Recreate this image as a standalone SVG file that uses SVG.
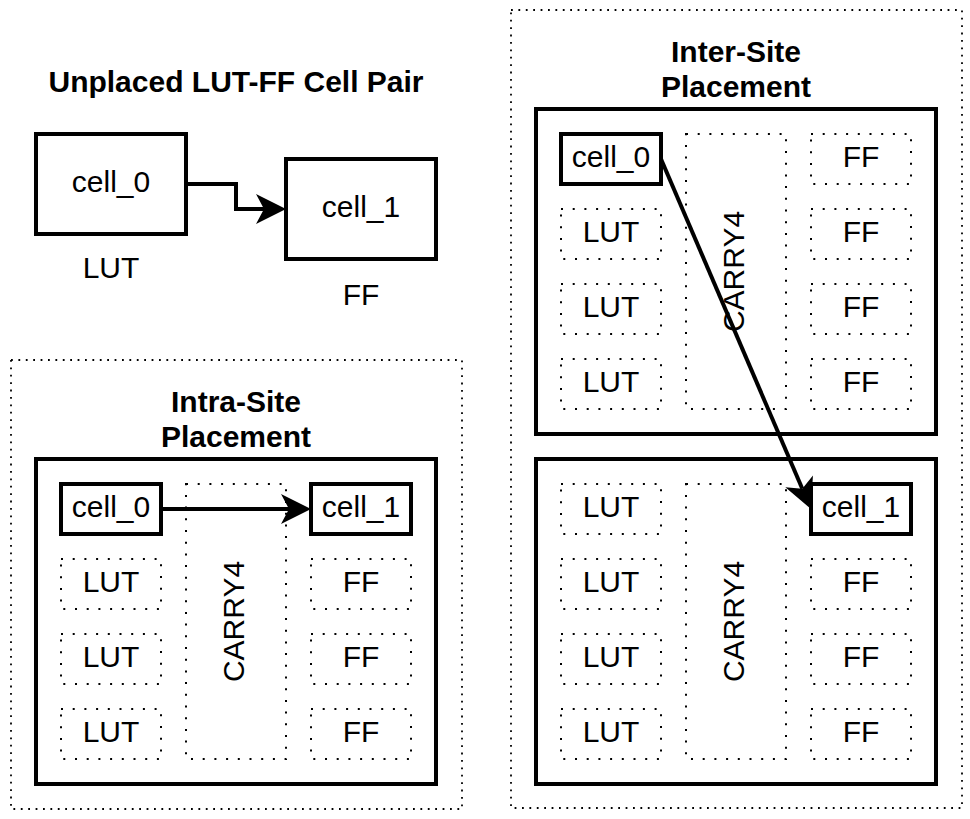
<svg xmlns="http://www.w3.org/2000/svg" width="970" height="819" viewBox="0 0 970 819">
<style>
text{font-family:"Liberation Sans",Arial,Helvetica,sans-serif;font-size:30px;fill:#000;text-anchor:middle}
.t{font-weight:bold}
.cell{fill:#fff;stroke:#000;stroke-width:4}
.site{fill:#fff;stroke:#000;stroke-width:4}
.slot{fill:none;stroke:#000;stroke-width:2;stroke-dasharray:2 9.7}
.region{fill:none;stroke:#000;stroke-width:1.8;stroke-dasharray:1.8 5.6}
.edge{fill:none;stroke:#000;stroke-width:4}
</style>
<defs>
<marker id="arr" markerUnits="userSpaceOnUse" markerWidth="32" markerHeight="32" refX="8" refY="15" orient="auto" overflow="visible">
<path d="M30,15 L0,0 L8,15 L0,30 Z" fill="#000"/>
</marker>
</defs>
<rect width="970" height="819" fill="#fff"/>

<g id="unplaced">
<text class="t" x="236" y="92">Unplaced LUT-FF Cell Pair</text>
<g id="u_cell0"><rect class="cell" x="36" y="134" width="150" height="100"/><text x="111" y="192">cell_0</text></g>
<text x="111" y="278">LUT</text>
<g id="u_cell1"><rect class="cell" x="286" y="159" width="150" height="100"/><text x="361" y="217">cell_1</text></g>
<text x="361" y="305">FF</text>
</g>

<g id="intra">
<rect class="region" x="11" y="360" width="451" height="449"/>
<text class="t" x="236" y="412">Intra-Site</text>
<text class="t" x="236" y="447">Placement</text>
<rect class="site" x="36" y="459" width="400" height="325"/>
<g id="i_cell0"><rect class="cell" x="61" y="484" width="100" height="50"/><text x="111" y="517">cell_0</text></g>
<g id="i_lut1"><rect class="slot" x="61" y="559" width="100" height="50"/><text x="111" y="592">LUT</text></g>
<g id="i_lut2"><rect class="slot" x="61" y="634" width="100" height="50"/><text x="111" y="667">LUT</text></g>
<g id="i_lut3"><rect class="slot" x="61" y="709" width="100" height="50"/><text x="111" y="742">LUT</text></g>
<g id="i_carry"><rect class="slot" x="186" y="484" width="100" height="275"/><text transform="translate(236,621.5) rotate(-90)" x="0" y="8">CARRY4</text></g>
<g id="i_cell1"><rect class="cell" x="311" y="484" width="100" height="50"/><text x="361" y="517">cell_1</text></g>
<g id="i_ff1"><rect class="slot" x="311" y="559" width="100" height="50"/><text x="361" y="592">FF</text></g>
<g id="i_ff2"><rect class="slot" x="311" y="634" width="100" height="50"/><text x="361" y="667">FF</text></g>
<g id="i_ff3"><rect class="slot" x="311" y="709" width="100" height="50"/><text x="361" y="742">FF</text></g>
</g>

<g id="inter">
<rect class="region" x="511" y="10" width="451" height="798"/>
<text class="t" x="736" y="62">Inter-Site</text>
<text class="t" x="736" y="97">Placement</text>
<rect class="site" x="536" y="109" width="400" height="325"/>
<g id="a_cell0"><rect class="cell" x="561" y="134" width="100" height="50"/><text x="611" y="167">cell_0</text></g>
<g id="a_lut1"><rect class="slot" x="561" y="209" width="100" height="50"/><text x="611" y="242">LUT</text></g>
<g id="a_lut2"><rect class="slot" x="561" y="284" width="100" height="50"/><text x="611" y="317">LUT</text></g>
<g id="a_lut3"><rect class="slot" x="561" y="359" width="100" height="50"/><text x="611" y="392">LUT</text></g>
<g id="a_carry"><rect class="slot" x="686" y="134" width="100" height="275"/><text transform="translate(736,271.5) rotate(-90)" x="0" y="8">CARRY4</text></g>
<g id="a_ff0"><rect class="slot" x="811" y="134" width="100" height="50"/><text x="861" y="167">FF</text></g>
<g id="a_ff1"><rect class="slot" x="811" y="209" width="100" height="50"/><text x="861" y="242">FF</text></g>
<g id="a_ff2"><rect class="slot" x="811" y="284" width="100" height="50"/><text x="861" y="317">FF</text></g>
<g id="a_ff3"><rect class="slot" x="811" y="359" width="100" height="50"/><text x="861" y="392">FF</text></g>

<rect class="site" x="536" y="459" width="400" height="325"/>
<g id="b_lut0"><rect class="slot" x="561" y="484" width="100" height="50"/><text x="611" y="517">LUT</text></g>
<g id="b_lut1"><rect class="slot" x="561" y="559" width="100" height="50"/><text x="611" y="592">LUT</text></g>
<g id="b_lut2"><rect class="slot" x="561" y="634" width="100" height="50"/><text x="611" y="667">LUT</text></g>
<g id="b_lut3"><rect class="slot" x="561" y="709" width="100" height="50"/><text x="611" y="742">LUT</text></g>
<g id="b_carry"><rect class="slot" x="686" y="484" width="100" height="275"/><text transform="translate(736,621.5) rotate(-90)" x="0" y="8">CARRY4</text></g>
<g id="b_cell1"><rect class="cell" x="811" y="484" width="100" height="50"/><text x="861" y="517">cell_1</text></g>
<g id="b_ff1"><rect class="slot" x="811" y="559" width="100" height="50"/><text x="861" y="592">FF</text></g>
<g id="b_ff2"><rect class="slot" x="811" y="634" width="100" height="50"/><text x="861" y="667">FF</text></g>
<g id="b_ff3"><rect class="slot" x="811" y="709" width="100" height="50"/><text x="861" y="742">FF</text></g>
</g>

<g id="connectors">
<path class="edge" d="M186,184 H236 V209 H264" marker-end="url(#arr)"/>
<path class="edge" d="M161,509 H289" marker-end="url(#arr)"/>
<path class="edge" d="M661,159 L802.3,488.8" marker-end="url(#arr)"/>
</g>
</svg>
